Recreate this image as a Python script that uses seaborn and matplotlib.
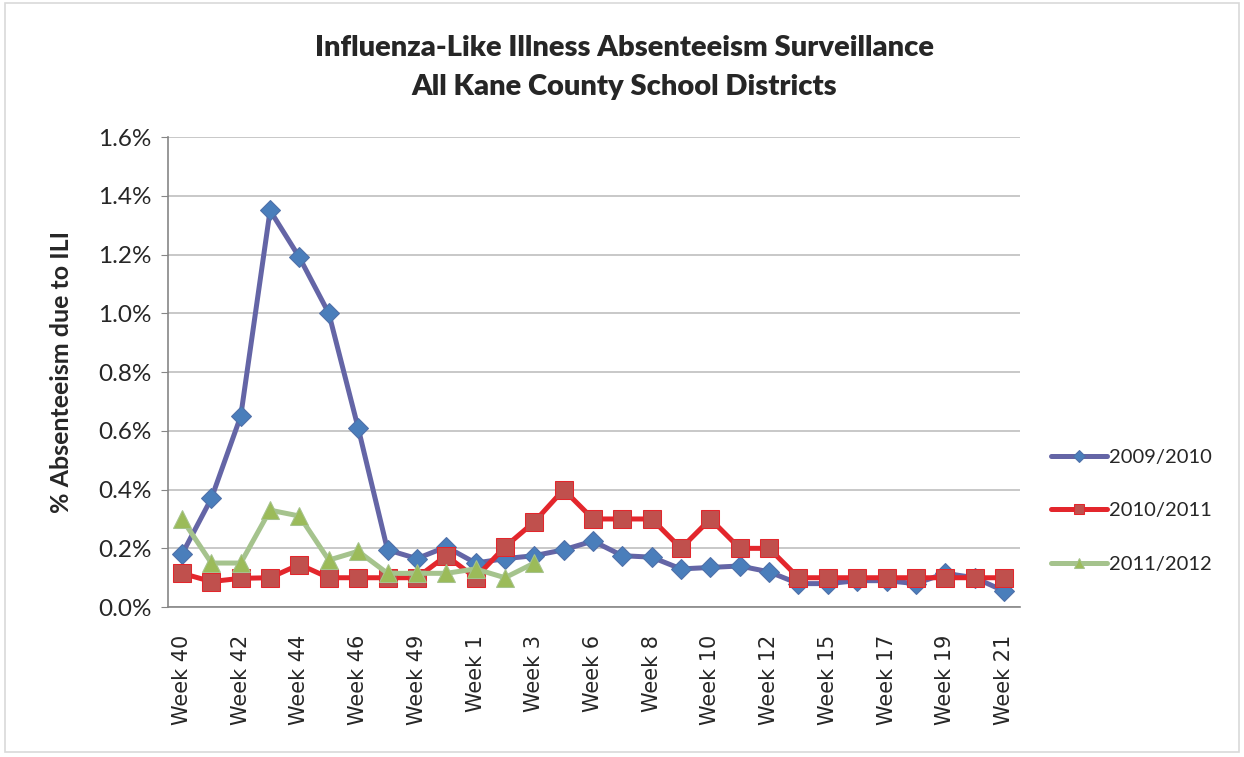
import numpy as np
import pandas as pd
import matplotlib
matplotlib.use("Agg")
import matplotlib.pyplot as plt
import seaborn as sns
from matplotlib.patches import Rectangle
from matplotlib.ticker import FuncFormatter

# week categories (only every other one is labelled on the axis)
weeks = ["Week 40", "Week 41", "Week 42", "Week 43", "Week 44", "Week 45", "Week 46",
         "Week 48", "Week 49", "Week 50", "Week 1", "Week 2", "Week 3", "Week 5",
         "Week 6", "Week 7", "Week 8", "Week 9", "Week 10", "Week 11", "Week 12",
         "Week 14", "Week 15", "Week 16", "Week 17", "Week 18", "Week 19", "Week 20",
         "Week 21"]

# % absenteeism due to ILI
season_0910 = [0.18, 0.37, 0.65, 1.35, 1.19, 1.00, 0.61, 0.195, 0.165, 0.205,
               0.15, 0.165, 0.175, 0.195, 0.225, 0.175, 0.17, 0.13, 0.135, 0.14,
               0.12, 0.08, 0.08, 0.09, 0.09, 0.08, 0.115, 0.10, 0.055]
season_1011 = [0.115, 0.087, 0.098, 0.10, 0.145, 0.10, 0.10, 0.10, 0.10, 0.175,
               0.10, 0.205, 0.29, 0.40, 0.30, 0.30, 0.30, 0.20, 0.30, 0.20,
               0.20, 0.10, 0.10, 0.10, 0.10, 0.10, 0.10, 0.10, 0.10]
season_1112 = [0.30, 0.15, 0.15, 0.33, 0.31, 0.16, 0.19, 0.115, 0.115, 0.115,
               0.13, 0.10, 0.15] + [np.nan] * 16

season_names = ["2009/2010", "2010/2011", "2011/2012"]

sns.set_style("white")
plt.rcParams['font.family'] = ['Lato', 'DejaVu Sans']

fig = plt.figure(figsize=(12.44, 7.57), dpi=100)
ax = fig.add_axes([0.135, 0.198, 0.685, 0.621])

styles = [
    dict(color="#6465A6", marker="D", markersize=10, markerfacecolor="#4A7EBB",
         markeredgecolor="#4F6FA8", linewidth=3.6),
    dict(color="#E3262C", marker="s", markersize=13, markerfacecolor="#C0504D",
         markeredgecolor="#E3262C", linewidth=3.6),
    dict(color="#A5C38D", marker="^", markersize=13, markerfacecolor="#9BBB59",
         markeredgecolor="#A5C38D", linewidth=3.6),
]

pos = np.arange(len(weeks))
for name, vals, st in zip(season_names, [season_0910, season_1011, season_1112], styles):
    df = pd.DataFrame({"pos": pos, "pct": vals}).dropna()
    sns.lineplot(data=df, x="pos", y="pct", ax=ax, label=name, sort=False, **st)

ax.set_xlim(-0.48, 28.55)
ax.set_ylim(0, 1.6)
ax.set_yticks(np.arange(0, 1.61, 0.2))
ax.yaxis.set_major_formatter(FuncFormatter(lambda v, p: f"{v:.1f}%"))
ax.set_xticks(pos[::2])
ax.set_xticklabels(weeks[::2], rotation=90, family="DejaVu Sans", fontsize=15)
ax.tick_params(axis="x", length=0, pad=20)
ax.tick_params(axis="y", labelsize=17.5, length=5, color="#868686", direction="out", left=True, pad=7)
ax.yaxis.grid(True, color="#BFBFBF", linewidth=1.2)
ax.xaxis.grid(False)
for s in ["top", "right"]:
    ax.spines[s].set_visible(False)
for s in ["left", "bottom"]:
    ax.spines[s].set_color("#868686")
    ax.spines[s].set_linewidth(1.2)

ax.set_xlabel("")
ax.set_ylabel("% Absenteeism due to ILI", fontsize=18, fontweight="bold", labelpad=18)

leg = ax.legend(loc="center left", bbox_to_anchor=(1.015, 0.205), frameon=False,
                fontsize=14.5, labelspacing=1.8, markerscale=0.6, handlelength=2.8,
                handletextpad=0.1)

fig.text(0.502, 0.937, "Influenza-Like Illness Absenteeism Surveillance",
         ha="center", va="center", fontsize=21, fontweight="heavy")
fig.text(0.502, 0.885, "All Kane County School Districts",
         ha="center", va="center", fontsize=21, fontweight="heavy")

fig.patches.append(Rectangle((0.004, 0.006), 0.992, 0.99, transform=fig.transFigure,
                             fill=False, edgecolor="#D9D9D9", linewidth=1.2))

fig.savefig("out.png", dpi=100)
